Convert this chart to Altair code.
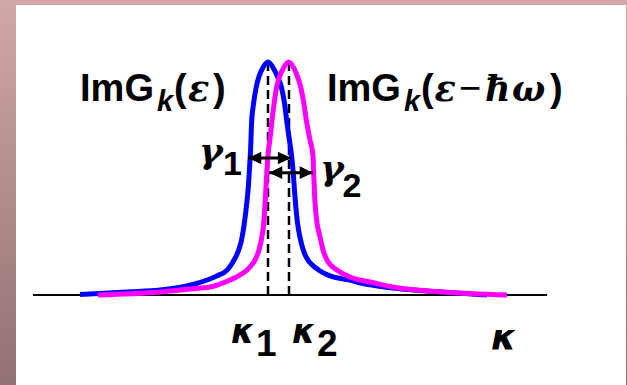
import altair as alt
import pandas as pd

# ---------------------------------------------------------------
# Spectral functions Im G_k(ε) (blue, centred at κ1) and
# Im G_k(ε − ħω) (magenta, centred at κ2); κ in units of κ2 − κ1
# ---------------------------------------------------------------
blue_k = [-8.95, -6.71, -5.14, -3.57, -2.43, -1.95, -1.67, -1.43, -1.26, -1.14,
          -1.01, -0.93, -0.87, -0.83, -0.78, -0.69, -0.57, -0.43, -0.24, 0.00,
          0.24, 0.45, 0.65, 0.79, 0.90, 1.02, 1.12, 1.19,
          1.26, 1.31, 1.40, 1.52, 1.71, 1.90, 2.14, 2.48, 2.95, 3.90,
          4.38, 5.95, 7.57, 10.43]
blue_g = [0.002, 0.013, 0.021, 0.045, 0.082, 0.107, 0.142, 0.185, 0.236, 0.300,
          0.395, 0.472, 0.558, 0.622, 0.742, 0.820, 0.888, 0.938, 0.976, 1.000,
          0.976, 0.938, 0.888, 0.820, 0.742, 0.665, 0.601, 0.536,
          0.451, 0.395, 0.313, 0.249, 0.185, 0.150, 0.126, 0.103, 0.082, 0.064,
          0.052, 0.030, 0.017, 0.000]

mag_k = [-8.10, -5.14, -3.71, -2.76, -1.81, -1.19, -0.86, -0.62, -0.43, -0.29,
         -0.19, -0.14, -0.05, 0.00, 0.10, 0.18, 0.29, 0.40, 0.55, 0.75,
         0.98, 1.22, 1.40, 1.57, 1.71, 1.84, 2.00, 2.14,
         2.17, 2.24, 2.33, 2.48, 2.62, 2.81, 3.29, 3.90, 4.86, 5.95,
         8.33, 11.38]
mag_g = [0.000, 0.013, 0.026, 0.034, 0.064, 0.094, 0.120, 0.150, 0.193, 0.249,
         0.322, 0.395, 0.536, 0.601, 0.674, 0.742, 0.820, 0.888, 0.938, 0.976,
         1.000, 0.976, 0.938, 0.888, 0.820, 0.742, 0.665, 0.601,
         0.536, 0.395, 0.313, 0.249, 0.193, 0.150, 0.107, 0.077, 0.056, 0.034,
         0.013, 0.000]

# peak positions κ1, κ2 and the baseline extent
peak_k = [0.0, 1.0]
axis_k = [-11.19, 13.29]

# widths γ1, γ2 (double arrows): start, end, height
width_k1 = [-0.95, 0.05]
width_k2 = [1.10, 2.14]
width_g = [0.588, 0.525]

W, H = 627, 385
xs = alt.Scale(domain=[-268 / 21, 359 / 21], nice=False, zero=False)
ys = alt.Scale(domain=[-90 / 233, 295 / 233], nice=False, zero=False)


def X(field):
    return alt.X(field, type="quantitative", scale=xs, axis=None)


def Y(field):
    return alt.Y(field, type="quantitative", scale=ys, axis=None)


# slide frame: mauve gradient border around a white panel
one = pd.DataFrame({"a": [0]})
frame = alt.Chart(one).mark_rect(
    fill=alt.Gradient(
        gradient="linear",
        stops=[alt.GradientStop(color="#d3a6a7", offset=0),
               alt.GradientStop(color="#917272", offset=1)],
        x1=0, x2=0, y1=0, y2=1,
    )
).encode(x=alt.value(0), x2=alt.value(W), y=alt.value(0), y2=alt.value(H))
panel = alt.Chart(one).mark_rect(fill="white").encode(
    x=alt.value(16), x2=alt.value(626), y=alt.value(5), y2=alt.value(H)
)

baseline = alt.Chart(pd.DataFrame({"k1": [axis_k[0]], "k2": [axis_k[1]], "g": [0.0]})).mark_rule(
    color="black", strokeWidth=2.2
).encode(x=X("k1"), x2=alt.X2("k2"), y=Y("g"))

dashes = alt.Chart(pd.DataFrame({"k": peak_k, "top": [1.0, 1.0], "bot": [-0.021, -0.021]})).mark_rule(
    color="black", strokeWidth=2.5, strokeDash=[9, 5]
).encode(x=X("k"), y=Y("top"), y2=alt.Y2("bot"))

blue_df = pd.DataFrame({"k": blue_k, "g": blue_g, "o": range(len(blue_k))})
mag_df = pd.DataFrame({"k": mag_k, "g": mag_g, "o": range(len(mag_k))})

blue_line = alt.Chart(blue_df).mark_line(
    color="#0000ff", strokeWidth=5, interpolate="monotone", strokeJoin="round"
).encode(x=X("k"), y=Y("g"), order="o:Q")
mag_line = alt.Chart(mag_df).mark_line(
    color="#ff00ff", strokeWidth=5, interpolate="monotone", strokeJoin="round"
).encode(x=X("k"), y=Y("g"), order="o:Q")

arrow_df = pd.DataFrame({"k1": width_k1, "k2": width_k2, "g": width_g})
arrow_shaft = alt.Chart(arrow_df).mark_rule(color="black", strokeWidth=3).encode(
    x=X("k1"), x2=alt.X2("k2"), y=Y("g")
)
head_left = alt.Chart(arrow_df).mark_point(
    shape="M0,0L1,-0.48L1,0.48Z", filled=True, color="black", opacity=1, size=700
).encode(x=X("k1"), y=Y("g"))
head_right = alt.Chart(arrow_df).mark_point(
    shape="M0,0L-1,-0.48L-1,0.48Z", filled=True, color="black", opacity=1, size=700
).encode(x=X("k2"), y=Y("g"))

# text pieces: (text, κ, ImG, font, size, style, weight)
SANS = "Liberation Sans"
SANS2 = "DejaVu Sans"
SERIF = "DejaVu Serif"
pieces = [
    ("ImG", -8.95, 0.833, SANS, 38, "normal", "bold"),
    ("k", -5.29, 0.790, SANS, 29, "italic", "bold"),
    ("(", -4.48, 0.833, SANS, 38, "normal", "bold"),
    ("\u03b5", -3.81, 0.833, SERIF, 35, "italic", "bold"),
    (")", -2.62, 0.833, SANS, 38, "normal", "bold"),
    ("ImG", 2.81, 0.833, SANS, 38, "normal", "bold"),
    ("k", 6.48, 0.790, SANS, 29, "italic", "bold"),
    ("(", 7.29, 0.833, SANS, 38, "normal", "bold"),
    ("\u03b5", 7.93, 0.833, SERIF, 35, "italic", "bold"),
    ("\u2212", 9.10, 0.833, SANS, 38, "normal", "normal"),
    ("\u0127", 10.33, 0.833, SERIF, 35, "italic", "bold"),
    ("\u03c9", 11.62, 0.833, SERIF, 35, "italic", "bold"),
    (")", 13.43, 0.833, SANS, 38, "normal", "bold"),
    ("\u03b3", -3.29, 0.567, SERIF, 36, "italic", "bold"),
    ("1", -2.14, 0.515, SANS, 34, "normal", "bold"),
    ("\u03b3", 2.48, 0.494, SERIF, 36, "italic", "bold"),
    ("2", 3.55, 0.421, SANS, 34, "normal", "bold"),
    ("\u03ba", -1.76, -0.206, SANS2, 33, "italic", "bold"),
    ("1", -0.57, -0.262, SANS, 37, "normal", "bold"),
    ("\u03ba", 1.14, -0.206, SANS2, 33, "italic", "bold"),
    ("2", 2.33, -0.262, SANS, 37, "normal", "bold"),
    ("\u03ba", 10.62, -0.236, SANS2, 36, "italic", "bold"),
]

text_layers = []
for t, k, g, font, size, style, weight in pieces:
    text_layers.append(
        alt.Chart(pd.DataFrame({"k": [k], "g": [g], "t": [t]})).mark_text(
            align="left", baseline="alphabetic", font=font, fontSize=size,
            fontStyle=style, fontWeight=weight, color="black"
        ).encode(x=X("k"), y=Y("g"), text="t:N")
    )

chart = alt.layer(
    frame, panel, baseline, dashes, blue_line, mag_line,
    arrow_shaft, head_left, head_right, *text_layers
).properties(
    width=W, height=H, padding=0, autosize=alt.AutoSizeParams(type="none")
).configure_view(stroke=None)

chart.save("out.html", embed_options={"renderer": "svg", "actions": False})
